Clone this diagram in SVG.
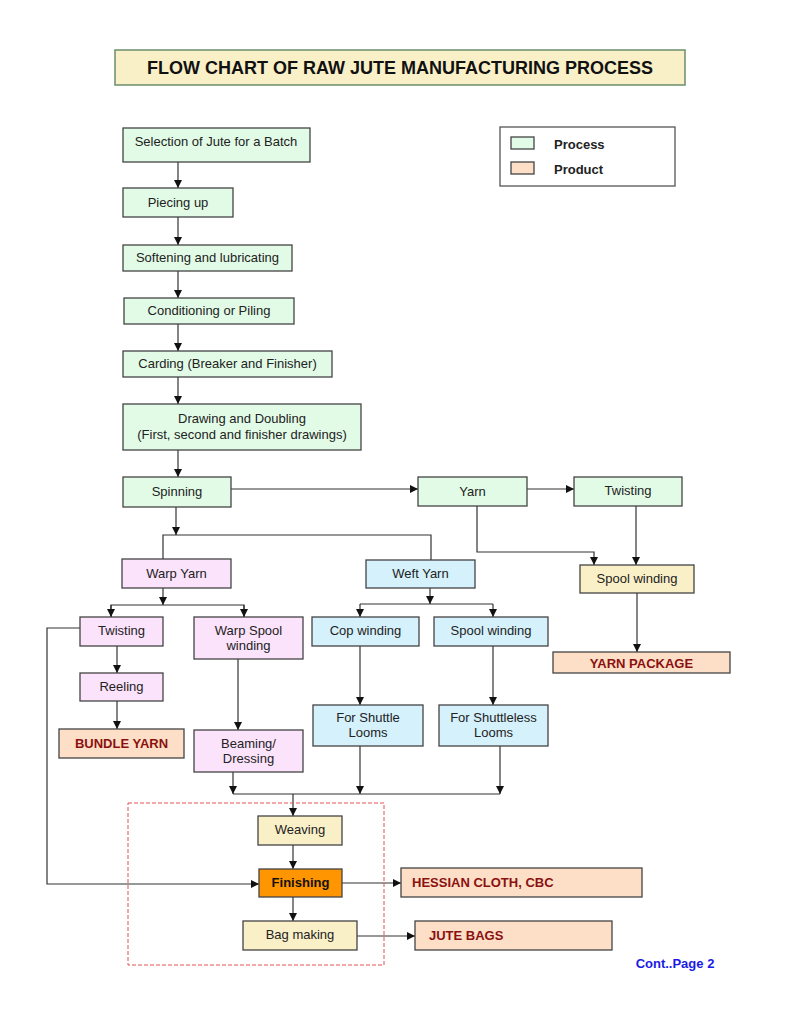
<svg xmlns="http://www.w3.org/2000/svg" width="791" height="1024" viewBox="0 0 791 1024">
<style>
  text { font-family: "Liberation Sans", Arial, sans-serif; font-size: 13px; fill: #222; text-anchor: middle; }
  .box { stroke: #444; stroke-width: 1.3; }
  .proc { fill: #E2FBE6; }
  .warp { fill: #FCE3FC; }
  .weft { fill: #D5F1FB; }
  .yel { fill: #FAF0C8; }
  .prod { fill: #FCDFC6; }
  .fin { fill: #FF9500; }
  .pt { font-weight: bold; fill: #8B1010; }
  .b { font-weight: bold; }
  .conn path { fill: none; stroke: #333; stroke-width: 1.2; }
</style>
<defs>
  <marker id="ah" viewBox="0 0 10 10" refX="10" refY="5" markerWidth="8" markerHeight="8" markerUnits="userSpaceOnUse" orient="auto">
    <path d="M0,0 L10,5 L0,10 z" fill="#111"/>
  </marker>
</defs>
<rect width="791" height="1024" fill="#fff"/>

<g id="title">
  <rect x="115" y="50" width="570" height="35" fill="#FAF0C8" stroke="#6B8E6B" stroke-width="1.5"/>
  <text x="400" y="74" class="b" style="font-size:18px;fill:#111">FLOW CHART OF RAW JUTE MANUFACTURING PROCESS</text>
</g>

<g id="legend">
  <rect x="500" y="127" width="175" height="59" fill="#fff" stroke="#555" stroke-width="1.3"/>
  <rect x="511" y="137" width="23" height="12" class="box proc"/>
  <rect x="511" y="162" width="23" height="12" class="box prod"/>
  <text x="554" y="149" class="b" style="text-anchor:start">Process</text>
  <text x="554" y="174" class="b" style="text-anchor:start">Product</text>
</g>

<g class="conn" id="connectors">
  <path d="M178 162 V188" marker-end="url(#ah)"/>
  <path d="M178 217 V245" marker-end="url(#ah)"/>
  <path d="M178 271 V298" marker-end="url(#ah)"/>
  <path d="M178 324 V351" marker-end="url(#ah)"/>
  <path d="M178 377 V404" marker-end="url(#ah)"/>
  <path d="M178 450 V477" marker-end="url(#ah)"/>
  <path d="M231 489 H418" marker-end="url(#ah)"/>
  <path d="M527 489 H574" marker-end="url(#ah)"/>
  <path d="M477 506 V552 H594 V565" marker-end="url(#ah)"/>
  <path d="M636 506 V565" marker-end="url(#ah)"/>
  <path d="M637 593 V652" marker-end="url(#ah)"/>
  <path d="M176 507 V535" marker-end="url(#ah)"/>
  <path d="M163 559 V535 H431 V560"/>
  <path d="M163 588 V605" marker-end="url(#ah)"/>
  <path d="M111 617 V605 H244 V617" />
  <path d="M111 605 V617" marker-end="url(#ah)"/>
  <path d="M244 605 V617" marker-end="url(#ah)"/>
  <path d="M430 588 V604" marker-end="url(#ah)"/>
  <path d="M360 604 H493"/>
  <path d="M360 604 V617" marker-end="url(#ah)"/>
  <path d="M493 604 V617" marker-end="url(#ah)"/>
  <path d="M117 646 V673" marker-end="url(#ah)"/>
  <path d="M117 701 V729" marker-end="url(#ah)"/>
  <path d="M238 659 V730" marker-end="url(#ah)"/>
  <path d="M360 646 V705" marker-end="url(#ah)"/>
  <path d="M493 646 V705" marker-end="url(#ah)"/>
  <path d="M80 628 H47 V884 H259" marker-end="url(#ah)"/>
  <path d="M233 772 V794" marker-end="url(#ah)"/>
  <path d="M360 746 V794" marker-end="url(#ah)"/>
  <path d="M500 746 V794" marker-end="url(#ah)"/>
  <path d="M233 794 H500"/>
  <path d="M293 794 V816" marker-end="url(#ah)"/>
  <path d="M293 845 V869" marker-end="url(#ah)"/>
  <path d="M342 883 H401" marker-end="url(#ah)"/>
  <path d="M293 897 V921" marker-end="url(#ah)"/>
  <path d="M357 936 H415" marker-end="url(#ah)"/>
</g>

<rect id="finishing-zone" x="128" y="803" width="256" height="162" fill="none" stroke="#E05050" stroke-width="1" stroke-dasharray="4,2"/>

<g id="selection"><rect x="123" y="128" width="187" height="34" class="box proc"/><text x="216" y="146">Selection of Jute for a Batch</text></g>
<g id="piecing"><rect x="123" y="188" width="110" height="29" class="box proc"/><text x="178" y="207">Piecing up</text></g>
<g id="softening"><rect x="123" y="245" width="169" height="26" class="box proc"/><text x="207.5" y="262">Softening and lubricating</text></g>
<g id="conditioning"><rect x="124" y="298" width="170" height="26" class="box proc"/><text x="209" y="315">Conditioning or Piling</text></g>
<g id="carding"><rect x="123" y="351" width="209" height="26" class="box proc"/><text x="227.5" y="368">Carding (Breaker and Finisher)</text></g>
<g id="drawing"><rect x="123" y="404" width="238" height="46" class="box proc"/><text x="242" y="423">Drawing and Doubling</text><text x="242" y="438.5">(First, second and finisher drawings)</text></g>
<g id="spinning"><rect x="123" y="477" width="108" height="30" class="box proc"/><text x="177" y="496">Spinning</text></g>
<g id="yarn"><rect x="418" y="477" width="109" height="29" class="box proc"/><text x="472.5" y="496">Yarn</text></g>
<g id="twisting-top"><rect x="574" y="477" width="108" height="29" class="box proc"/><text x="628" y="495">Twisting</text></g>
<g id="spool-winding-top"><rect x="580" y="565" width="114" height="28" class="box yel"/><text x="637" y="583">Spool winding</text></g>
<g id="yarn-package"><rect x="553" y="652" width="177" height="21" class="box prod"/><text x="641.5" y="667.5" class="pt">YARN PACKAGE</text></g>

<g id="warp-yarn"><rect x="122" y="559" width="109" height="29" class="box warp"/><text x="176.5" y="578">Warp Yarn</text></g>
<g id="weft-yarn"><rect x="366" y="560" width="109" height="28" class="box weft"/><text x="420.5" y="578">Weft Yarn</text></g>
<g id="twisting"><rect x="80" y="617" width="83" height="29" class="box warp"/><text x="121.5" y="635">Twisting</text></g>
<g id="warp-spool"><rect x="194" y="617" width="109" height="42" class="box warp"/><text x="248.5" y="635">Warp Spool</text><text x="248.5" y="650">winding</text></g>
<g id="reeling"><rect x="80" y="673" width="83" height="28" class="box warp"/><text x="121.5" y="691">Reeling</text></g>
<g id="bundle-yarn"><rect x="59" y="729" width="125" height="29" class="box prod"/><text x="121.5" y="748" class="pt">BUNDLE YARN</text></g>
<g id="beaming"><rect x="194" y="730" width="109" height="42" class="box warp"/><text x="248.5" y="748">Beaming/</text><text x="248.5" y="763">Dressing</text></g>
<g id="cop-winding"><rect x="312" y="617" width="107" height="29" class="box weft"/><text x="365.5" y="635">Cop winding</text></g>
<g id="spool-winding"><rect x="434" y="617" width="114" height="29" class="box weft"/><text x="491" y="635">Spool winding</text></g>
<g id="shuttle"><rect x="313" y="705" width="110" height="41" class="box weft"/><text x="368" y="722">For Shuttle</text><text x="368" y="737">Looms</text></g>
<g id="shuttleless"><rect x="439" y="705" width="109" height="41" class="box weft"/><text x="493.5" y="722">For Shuttleless</text><text x="493.5" y="737">Looms</text></g>

<g id="weaving"><rect x="258" y="816" width="84" height="29" class="box yel"/><text x="300" y="834">Weaving</text></g>
<g id="finishing"><rect x="259" y="869" width="83" height="28" class="box fin"/><text x="300.5" y="887" class="b" style="fill:#111">Finishing</text></g>
<g id="bag-making"><rect x="243" y="921" width="114" height="29" class="box yel"/><text x="300" y="939">Bag making</text></g>
<g id="hessian"><rect x="401" y="868" width="241" height="29" class="box prod"/><text x="412" y="887" class="pt" style="text-anchor:start">HESSIAN CLOTH, CBC</text></g>
<g id="jute-bags"><rect x="415" y="921" width="197" height="29" class="box prod"/><text x="429" y="940" class="pt" style="text-anchor:start">JUTE BAGS</text></g>

<text x="675" y="968" class="b" style="fill:#1A1AE6">Cont..Page 2</text>
</svg>
